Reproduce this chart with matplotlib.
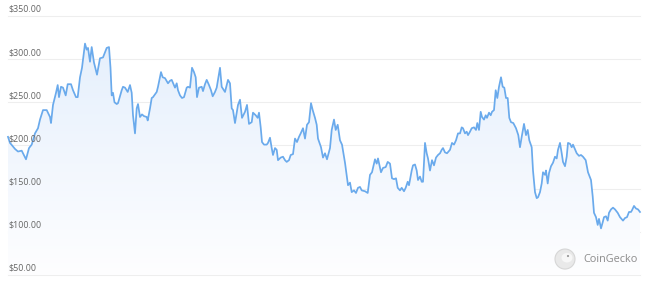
import numpy as np
import matplotlib
matplotlib.use("Agg")
import matplotlib.pyplot as plt
from matplotlib.patches import Ellipse

# price history (t = time index, price in USD)
t = [8, 10, 15, 18, 21.7, 26, 29, 31.7, 35, 38, 40, 43, 46.7, 50, 51, 53, 56, 57.7, 59,
     61, 63, 65.7, 67.7, 71, 73, 76, 77.7, 80, 82, 85, 86.7, 88, 90, 91.7, 94, 97, 100,
     103, 106.7, 109, 110.5, 111.7, 113, 114.5, 116.7, 118, 121.7, 123, 125, 127.7, 130,
     131.7, 133, 135, 136.7, 138, 140, 142, 144, 146.7, 147.7, 150, 151.7, 153, 156.7,
     158, 161, 162.7, 165, 168, 170, 171.7, 175, 176.7, 178, 180, 182, 184, 186.7, 188,
     190, 192, 194, 195.7, 197, 199, 201.7, 203, 205, 206.7, 209, 211, 212.7, 215, 216.7,
     220, 221.7, 225, 228, 230, 231.7, 233, 235, 238, 240, 242, 245, 247, 249, 251.7, 253,
     255.7, 257.7, 259, 260.7, 262, 264, 266.7, 268, 270, 271.7, 273, 275, 276.7, 278,
     280.7, 283, 285, 286.7, 289, 290.7, 293, 295, 297, 299, 300.7, 303, 305, 307, 309,
     311, 312.7, 315, 316.7, 318, 321, 323, 325, 327, 330, 331.7, 334, 335.7, 337.7, 340,
     342, 345, 348, 350, 351.7, 354, 356, 358, 360, 361.7, 365, 367.7, 370, 372, 375,
     376.7, 378, 381, 383, 385.7, 387.7, 390, 392, 394, 396, 397.7, 400, 401.7, 404,
     405.7, 407.7, 409, 411.7, 413, 415, 416.7, 418, 420, 421.7, 423, 425, 426.7, 428,
     430, 432, 434, 436, 438, 440, 441.7, 443, 445, 447, 450, 452, 454, 456, 458, 460,
     461.7, 463, 465, 466.7, 468, 470, 471.7, 474, 476, 477.3, 479, 480.7, 482, 484,
     485.7, 487, 489, 490.7, 492, 494, 495.7, 497.3, 499, 501, 502.7, 504.3, 506, 507.7,
     509.3, 511, 513.3, 516, 518.3, 520, 521.7, 524, 526, 527.7, 529.3, 531.7, 533, 535,
     536.7, 538, 540, 541.7, 543, 545, 546, 547.7, 549, 551, 553, 555, 556.7, 558, 560,
     561.7, 563, 565, 566.7, 568, 570, 571.7, 573, 576.7, 579, 581, 583, 585.7, 588, 591,
     592.7, 594, 596, 597.7, 599, 601, 602.7, 604, 606, 607.7, 609, 611, 613, 615, 617.7,
     620, 623, 625, 627, 629, 631, 632, 634, 636, 638, 640]
price = [210, 203, 196, 193, 194, 184, 197, 201, 214, 220, 230, 241, 241, 233, 226, 247,
         261, 270, 256, 268, 267, 258, 271, 271, 264, 256, 256, 279, 290, 318, 311, 313,
         297, 314, 296, 282, 301, 302, 313, 314, 290, 258, 261, 250, 248, 249, 264, 268,
         267, 262, 270, 261, 235, 214, 243, 248, 233, 236, 234, 233, 229, 243, 255, 256,
         262, 268, 285, 279, 278, 272, 275, 276, 267, 272, 264, 258, 255, 256, 267, 268,
         267, 290, 285, 279, 256, 267, 268, 263, 271, 276, 270, 264, 257, 262, 267, 290,
         268, 262, 276, 272, 243, 241, 226, 247, 253, 232, 239, 247, 225, 227, 238, 235,
         232, 238, 221, 204, 201, 201, 203, 209, 197, 189, 197, 195, 183, 186, 187, 183,
         181, 183, 189, 190, 208, 204, 210, 214, 220, 208, 224, 227, 249, 241, 232, 224,
         208, 198, 186, 191, 184, 197, 218, 230, 218, 224, 206, 201, 180, 154, 157, 146,
         148, 145, 151, 152, 148, 147, 145, 166, 169, 184, 179, 185, 169, 174, 175, 181,
         179, 162, 161, 162, 151, 148, 151, 147, 151, 158, 154, 171, 177, 178, 171, 160,
         164, 158, 158, 203, 191, 185, 171, 183, 177, 186, 189, 191, 195, 197, 192, 191,
         195, 203, 201, 206, 214, 214, 221, 220, 214, 216, 212, 216, 220, 221, 218, 226,
         218, 239, 233, 230, 235, 232, 238, 235, 239, 241, 264, 255, 268, 279, 268, 267,
         255, 255, 232, 227, 226, 220, 212, 198, 210, 225, 212, 218, 206, 198, 171, 146,
         139, 140, 146, 156, 169, 166, 171, 156, 168, 176, 180, 187, 185, 195, 203, 191,
         181, 176, 187, 203, 202, 198, 201, 191, 188, 189, 187, 183, 169, 160, 141, 122,
         117, 108, 115, 104, 111, 117, 118, 113, 122, 126, 128, 126, 122, 117, 113, 116,
         117, 123, 123, 125, 130, 127, 126, 123]

levels = [50, 100, 150, 200, 250, 300, 350]

fig = plt.figure(figsize=(6.5, 2.82), dpi=100)
ax = fig.add_axes([0, 0, 1, 1])
ax.axis("off")

# horizontal gridlines + price labels
for lv in levels:
    ax.plot([8, 640], [lv, lv], color="#eeeeee", lw=0.8, zorder=1)
    ax.annotate(f"${lv:.2f}", (8, lv), xytext=(0, 1.5), textcoords="offset points",
                ha="left", va="bottom", fontsize=6.4, color="#666666",
                family=["Open Sans", "DejaVu Sans"], zorder=4)

# gradient area under the line
poly = ax.fill_between(t, price, 50, color="none", lw=0)
top = np.array([0.90, 0.94, 0.99])
bottom = np.array([0.995, 0.995, 1.0])
g = np.linspace(0, 1, 256)[:, None]
img = np.zeros((256, 1, 3))
for k in range(3):
    img[:, 0, k] = bottom[k] + (top[k] - bottom[k]) * g[:, 0]
im = ax.imshow(img, extent=[t[0], t[-1], 50, max(price)], aspect="auto",
               origin="lower", zorder=2, interpolation="bilinear")
im.set_clip_path(poly.get_paths()[0], transform=ax.transData)

ax.plot(t, price, color="#6aaaec", lw=1.25, zorder=3, solid_joinstyle="round")

# CoinGecko watermark
ax.add_patch(Ellipse((565, 68.5), 20, 23.2, facecolor="#e9e9e9",
                     edgecolor="#d6d6d6", lw=0.8, zorder=4))
ax.add_patch(Ellipse((567, 70), 11, 11, facecolor="#f7f7f7", edgecolor="none", zorder=5))
ax.add_patch(Ellipse((568, 72), 2.2, 2.5, facecolor="#9a9a9a", edgecolor="none", zorder=6))
ax.text(583, 68.5, "CoinGecko", ha="left", va="center", fontsize=7.8,
        color="#8c8c8c", family=["Open Sans", "DejaVu Sans"], zorder=5)

ax.set_xlim(0, 650)
ax.set_ylim(41.9, 368.5)

fig.savefig("out.png", dpi=100, facecolor="white")
